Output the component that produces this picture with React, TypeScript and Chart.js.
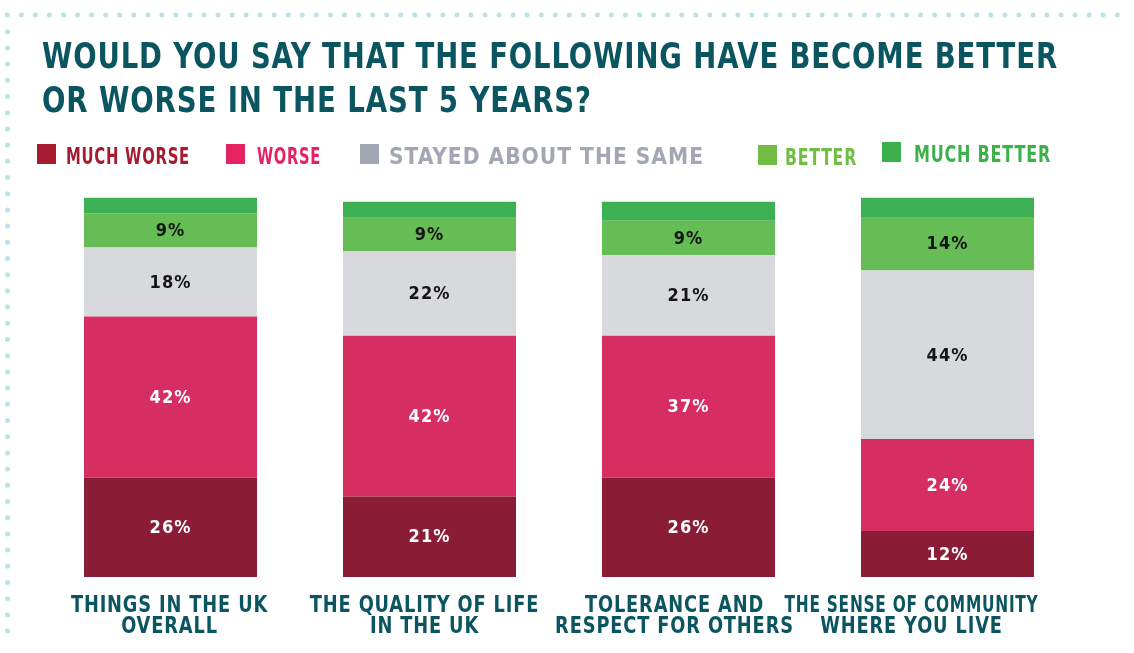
import React, { useEffect, useRef } from "react";
import { Chart, registerables } from "chart.js";

Chart.register(...registerables);

const titleLines = ["WOULD YOU SAY THAT THE FOLLOWING HAVE BECOME BETTER", "OR WORSE IN THE LAST 5 YEARS?"];
const categories: string[][] = [
  ["THINGS IN THE UK", "OVERALL"],
  ["THE QUALITY OF LIFE", "IN THE UK"],
  ["TOLERANCE AND", "RESPECT FOR OTHERS"],
  ["THE SENSE OF COMMUNITY", "WHERE YOU LIVE"],
];
const seriesNames = ["MUCH WORSE", "WORSE", "STAYED ABOUT THE SAME", "BETTER", "MUCH BETTER"];
const muchWorse = [26, 21, 26, 12];
const worse = [42, 42, 37, 24];
const stayedSame = [18, 22, 21, 44];
const better = [9, 9, 9, 14];
const muchBetter = [4, 4, 5, 5];

const barColors = ["#8b1c36", "#d62e63", "#d8d9dc", "#66bd55", "#3db054"];
const legendColors = ["#a51c30", "#e52262", "#a1a8b3", "#72be44", "#3cb04a"];
const valueTextColors = ["#ffffff", "#ffffff", "#151515", "#151515", ""];
const TEAL = "#0b5560";
const FONT = "'DejaVu Sans Condensed', 'DejaVu Sans', sans-serif";

// layout for the hand-placed legend: [boxX, boxY, textX, textMaxWidth]
const legendLayout = [
  [37, 144, 66, 124],
  [226, 144, 257, 64],
  [360, 144, 389, 315],
  [758, 145, 785, 72],
  [882, 142, 914, 137],
];
const xLabelShift = [-1, -5, -14, -36];

function squeezed(ctx: any, text: string, x: number, y: number, factor: number, maxW: number) {
  const w = ctx.measureText(text).width;
  ctx.fillText(text, x, y, Math.min(w * factor, maxW));
}

const decorPlugin = {
  id: "decor",
  beforeDraw(chart: any) {
    const ctx = chart.ctx;
    ctx.save();
    ctx.fillStyle = "#ffffff";
    ctx.fillRect(0, 0, chart.width, chart.height);
    // dotted frame
    ctx.fillStyle = "#bde1e8";
    for (let x = 7.3; x < chart.width - 5; x += 14.05) {
      ctx.beginPath();
      ctx.arc(x, 15, 2.5, 0, Math.PI * 2);
      ctx.fill();
    }
    for (let y = 31.7; y < chart.height - 10; y += 16.2) {
      ctx.beginPath();
      ctx.arc(7.5, y, 2.5, 0, Math.PI * 2);
      ctx.fill();
    }
    // title
    ctx.fillStyle = TEAL;
    ctx.textBaseline = "alphabetic";
    ctx.textAlign = "left";
    ctx.font = `bold 35px ${FONT}`;
    ctx.letterSpacing = "1px";
    squeezed(ctx, titleLines[0], 42, 68, 0.9, 1016);
    squeezed(ctx, titleLines[1], 42, 112, 0.9, 550);
    // legend
    ctx.font = `bold 23px ${FONT}`;
    ctx.letterSpacing = "1px";
    seriesNames.forEach((name, i) => {
      const [bx, by, tx, tw] = legendLayout[i];
      ctx.fillStyle = legendColors[i];
      ctx.fillRect(bx, by, 19, 20);
      ctx.fillText(name, tx, by + 20, tw);
    });
    ctx.restore();
  },
  afterDatasetsDraw(chart: any) {
    const ctx = chart.ctx;
    ctx.save();
    ctx.textAlign = "center";
    ctx.textBaseline = "middle";
    ctx.font = `bold 18px ${FONT}`;
    ctx.letterSpacing = "1px";
    chart.data.datasets.forEach((ds: any, di: number) => {
      if (!valueTextColors[di]) return;
      const meta = chart.getDatasetMeta(di);
      meta.data.forEach((bar: any, i: number) => {
        const v = ds.data[i];
        ctx.fillStyle = valueTextColors[di];
        ctx.fillText(`${v}%`, bar.x, (bar.y + bar.base) / 2 + 1);
      });
    });
    // category labels
    const xScale = chart.scales.x;
    ctx.fillStyle = TEAL;
    ctx.textBaseline = "alphabetic";
    ctx.font = `bold 23px ${FONT}`;
    ctx.letterSpacing = "1px";
    categories.forEach((lines, i) => {
      const cx = xScale.getPixelForValue(i) + xLabelShift[i];
      lines.forEach((line, li) => {
        squeezed(ctx, line, cx, 612 + li * 21, 0.86, 254);
      });
    });
    ctx.restore();
  },
};

export default function App() {
  const ref = useRef<HTMLCanvasElement>(null);
  useEffect(() => {
    if (!ref.current) return;
    const series = [muchWorse, worse, stayedSame, better, muchBetter];
    const chart = new Chart(ref.current, {
      type: "bar",
      data: {
        labels: categories.map((c) => c.join(" ")),
        datasets: series.map((d, i) => ({
          label: seriesNames[i],
          data: d,
          backgroundColor: barColors[i],
          borderWidth: 0,
          categoryPercentage: 1,
          barPercentage: 0.668,
        })),
      },
      options: {
        responsive: false,
        animation: false,
        devicePixelRatio: 1,
        layout: { padding: { left: 41, right: 57, top: 194, bottom: 76 } },
        plugins: { legend: { display: false }, title: { display: false }, tooltip: { enabled: false } },
        scales: {
          x: { stacked: true, display: false },
          y: { stacked: true, display: false, min: 0, max: 100 },
        },
      },
      plugins: [decorPlugin],
    });
    return () => chart.destroy();
  }, []);
  return (
    <div style={{ position: "fixed", left: 0, top: 0, width: 1134, height: 653, background: "#fff" }}>
      <canvas ref={ref} width={1134} height={653} />
    </div>
  );
}
